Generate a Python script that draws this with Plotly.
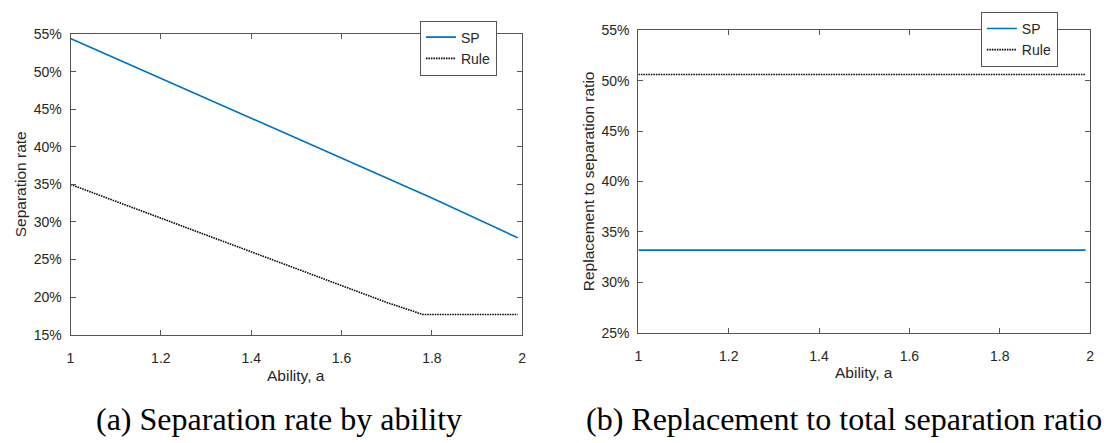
import plotly.graph_objects as go

# ---------------- data ----------------
ability_a_sp = [1.0, 1.2, 1.4, 1.6, 1.8, 1.99]
sep_rate_sp = [54.4, 49.1, 43.8, 38.5, 33.2, 27.9]

ability_a_rule = [1.0, 1.2, 1.4, 1.6, 1.7, 1.75, 1.78, 1.99]
sep_rate_rule = [35.0, 30.5, 26.0, 21.5, 19.3, 18.3, 17.7, 17.7]

ability_b = [1.0, 1.99]
ratio_sp = [33.2, 33.2]
ratio_rule = [50.6, 50.6]

x_ticks = [1, 1.2, 1.4, 1.6, 1.8, 2]
x_ticklabels = ["1", "1.2", "1.4", "1.6", "1.8", "2"]
y_ticks_a = [15, 20, 25, 30, 35, 40, 45, 50, 55]
y_ticklabels_a = ["15%", "20%", "25%", "30%", "35%", "40%", "45%", "50%", "55%"]
y_ticks_b = [25, 30, 35, 40, 45, 50, 55]
y_ticklabels_b = ["25%", "30%", "35%", "40%", "45%", "50%", "55%"]

# ---------------- layout helpers ----------------
W, H = 1104, 443
def px(x):
    return x / W
def py(y):
    return 1 - y / H

BLUE = "#0072BD"
AXC = "#555555"
TXT = "#262626"
SANS = "Liberation Sans, Arial, sans-serif"
SERIF = "Liberation Serif, Times New Roman, serif"

fig = go.Figure()

fig.add_trace(go.Scatter(x=ability_a_sp, y=sep_rate_sp, mode="lines", name="SP",
                         line=dict(color=BLUE, width=1.6), xaxis="x", yaxis="y",
                         legend="legend"))
fig.add_trace(go.Scatter(x=ability_a_rule, y=sep_rate_rule, mode="lines", name="Rule",
                         line=dict(color="black", width=1.6, dash="1.5px,1px"),
                         xaxis="x", yaxis="y", legend="legend"))
fig.add_trace(go.Scatter(x=ability_b, y=ratio_sp, mode="lines", name="SP",
                         line=dict(color=BLUE, width=1.6), xaxis="x2", yaxis="y2",
                         legend="legend2"))
fig.add_trace(go.Scatter(x=ability_b, y=ratio_rule, mode="lines", name="Rule",
                         line=dict(color="black", width=1.6, dash="1.5px,1px"),
                         xaxis="x2", yaxis="y2", legend="legend2"))

axis_common = dict(showline=True, linecolor=AXC, linewidth=1, mirror="ticks",
                   ticks="inside", ticklen=5, tickcolor=AXC, showgrid=False,
                   zeroline=False, tickfont=dict(family=SANS, size=14, color=TXT))

fig.update_layout(
    width=W, height=H,
    margin=dict(l=0, r=0, t=0, b=0),
    paper_bgcolor="white", plot_bgcolor="white",
    xaxis=dict(domain=[px(67), px(522)], range=[1, 2], tickvals=x_ticks,
               ticktext=x_ticklabels, anchor="y", ticklabelstandoff=10, **axis_common),
    yaxis=dict(domain=[py(339), py(27)], range=[15, 55], tickvals=y_ticks_a,
               ticktext=y_ticklabels_a, anchor="x", ticklabelstandoff=5, **axis_common),
    xaxis2=dict(domain=[px(639), px(1094)], range=[1, 2], tickvals=x_ticks,
                ticktext=x_ticklabels, anchor="y2", ticklabelstandoff=10, **axis_common),
    yaxis2=dict(domain=[py(337), py(23)], range=[25, 55], tickvals=y_ticks_b,
                ticktext=y_ticklabels_b, anchor="x2", ticklabelstandoff=5, **axis_common),
    legend=dict(x=px(419), y=py(13), xanchor="left", yanchor="top",
                bgcolor="white", bordercolor=AXC, borderwidth=1,
                font=dict(family=SANS, size=14, color=TXT),
                tracegroupgap=0, itemwidth=30),
    legend2=dict(x=px(984), y=py(4), xanchor="left", yanchor="top",
                 bgcolor="white", bordercolor=AXC, borderwidth=1,
                 font=dict(family=SANS, size=14, color=TXT),
                 tracegroupgap=0, itemwidth=30),
    showlegend=True,
)

annots = [
    dict(text="Separation rate", x=px(17), y=py(183), textangle=-90,
         font=dict(family=SANS, size=15.5, color=TXT)),
    dict(text="Replacement to separation ratio", x=px(589), y=py(180), textangle=-90,
         font=dict(family=SANS, size=15.5, color=TXT)),
    dict(text="Ability, a", x=px(294.5), y=py(381),
         font=dict(family=SANS, size=15.5, color=TXT)),
    dict(text="Ability, a", x=px(866.5), y=py(378),
         font=dict(family=SANS, size=15.5, color=TXT)),
    dict(text="(a) Separation rate by ability", x=px(277), y=py(426),
         font=dict(family=SERIF, size=32, color="black")),
    dict(text="(b) Replacement to total separation ratio", x=px(584), y=py(426),
         xanchor="left", font=dict(family=SERIF, size=32, color="black")),
]
for a in annots:
    a.setdefault("xanchor", "center")
    a.update(xref="paper", yref="paper", yanchor="middle", showarrow=False)
    fig.add_annotation(**a)

fig.write_html("out.html")
